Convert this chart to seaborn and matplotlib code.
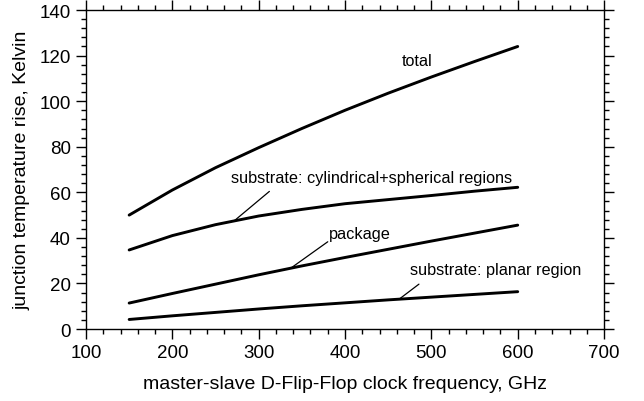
import matplotlib
matplotlib.use("Agg")
import matplotlib.pyplot as plt
import seaborn as sns
import pandas as pd
from matplotlib.ticker import MultipleLocator

freq = [150, 200, 250, 300, 350, 400, 450, 500, 550, 600]
total = [50.0, 61.0, 70.8, 79.6, 88.0, 96.0, 103.5, 110.6, 117.4, 124.0]
substrate_cyl = [34.7, 41.0, 45.8, 49.6, 52.5, 55.0, 56.8, 58.6, 60.5, 62.2]
package = [11.4, 15.6, 19.7, 23.8, 27.7, 31.4, 35.0, 38.6, 42.1, 45.6]
planar = [4.2, 5.8, 7.3, 8.8, 10.2, 11.5, 12.8, 14.0, 15.2, 16.4]

series_names = ["total", "substrate: cylindrical+spherical regions", "package", "substrate: planar region"]
x_ticks = [100, 200, 300, 400, 500, 600, 700]
y_ticks = [0, 20, 40, 60, 80, 100, 120, 140]
xlabel = "master-slave D-Flip-Flop clock frequency, GHz"
ylabel = "junction temperature rise, Kelvin"

rows = []
for name, vals in zip(series_names, [total, substrate_cyl, package, planar]):
    for f, v in zip(freq, vals):
        rows.append({"freq": f, "rise": v, "series": name})
df = pd.DataFrame(rows)

sns.set_style("ticks")
plt.rcParams["font.family"] = ["Liberation Sans", "DejaVu Sans"]
plt.rcParams["text.color"] = "black"
plt.rcParams["axes.labelcolor"] = "black"
plt.rcParams["xtick.color"] = "black"
plt.rcParams["ytick.color"] = "black"
plt.rcParams["axes.edgecolor"] = "black"

fig = plt.figure(figsize=(6.44, 4.02), dpi=100)
ax = fig.add_axes([0.1335, 0.179, 0.8045, 0.7936])

sns.lineplot(data=df, x="freq", y="rise", units="series", estimator=None,
             color="black", linewidth=2.1, ax=ax, legend=False)

ax.set_xlim(100, 700)
ax.set_ylim(0, 140)
ax.set_xticks(x_ticks)
ax.set_yticks(y_ticks)
ax.xaxis.set_minor_locator(MultipleLocator(20))
ax.yaxis.set_minor_locator(MultipleLocator(4))
ax.tick_params(which="both", direction="out", top=True, right=True, color="black",
               labelcolor="black", width=1.0, labelsize=13.5)
ax.tick_params(which="major", length=7, pad=4)
ax.tick_params(which="minor", length=3.5)
for s in ax.spines.values():
    s.set_visible(True)
    s.set_linewidth(1.0)
    s.set_color("black")

ax.set_xlabel(xlabel, fontsize=14.0, labelpad=10, color="black")
ax.set_ylabel(ylabel, fontsize=14.0, labelpad=6, color="black")

fs = 11.7
ax.text(465.6, 118.0, series_names[0], fontsize=fs, va="center", ha="left", color="black")
ax.text(268, 66.3, series_names[1], fontsize=fs, va="center", ha="left", color="black")
ax.text(380.8, 42.1, series_names[2], fontsize=fs, va="center", ha="left", color="black")
ax.text(475.5, 26.3, series_names[3], fontsize=fs, va="center", ha="left", color="black")

ax.plot([271.7, 312.4], [47.5, 60.4], color="black", linewidth=0.9)
ax.plot([337.5, 380.0], [26.8, 38.3], color="black", linewidth=0.9)
ax.plot([463.0, 485.6], [13.2, 19.7], color="black", linewidth=0.9)

fig.savefig("out.png", dpi=100)
